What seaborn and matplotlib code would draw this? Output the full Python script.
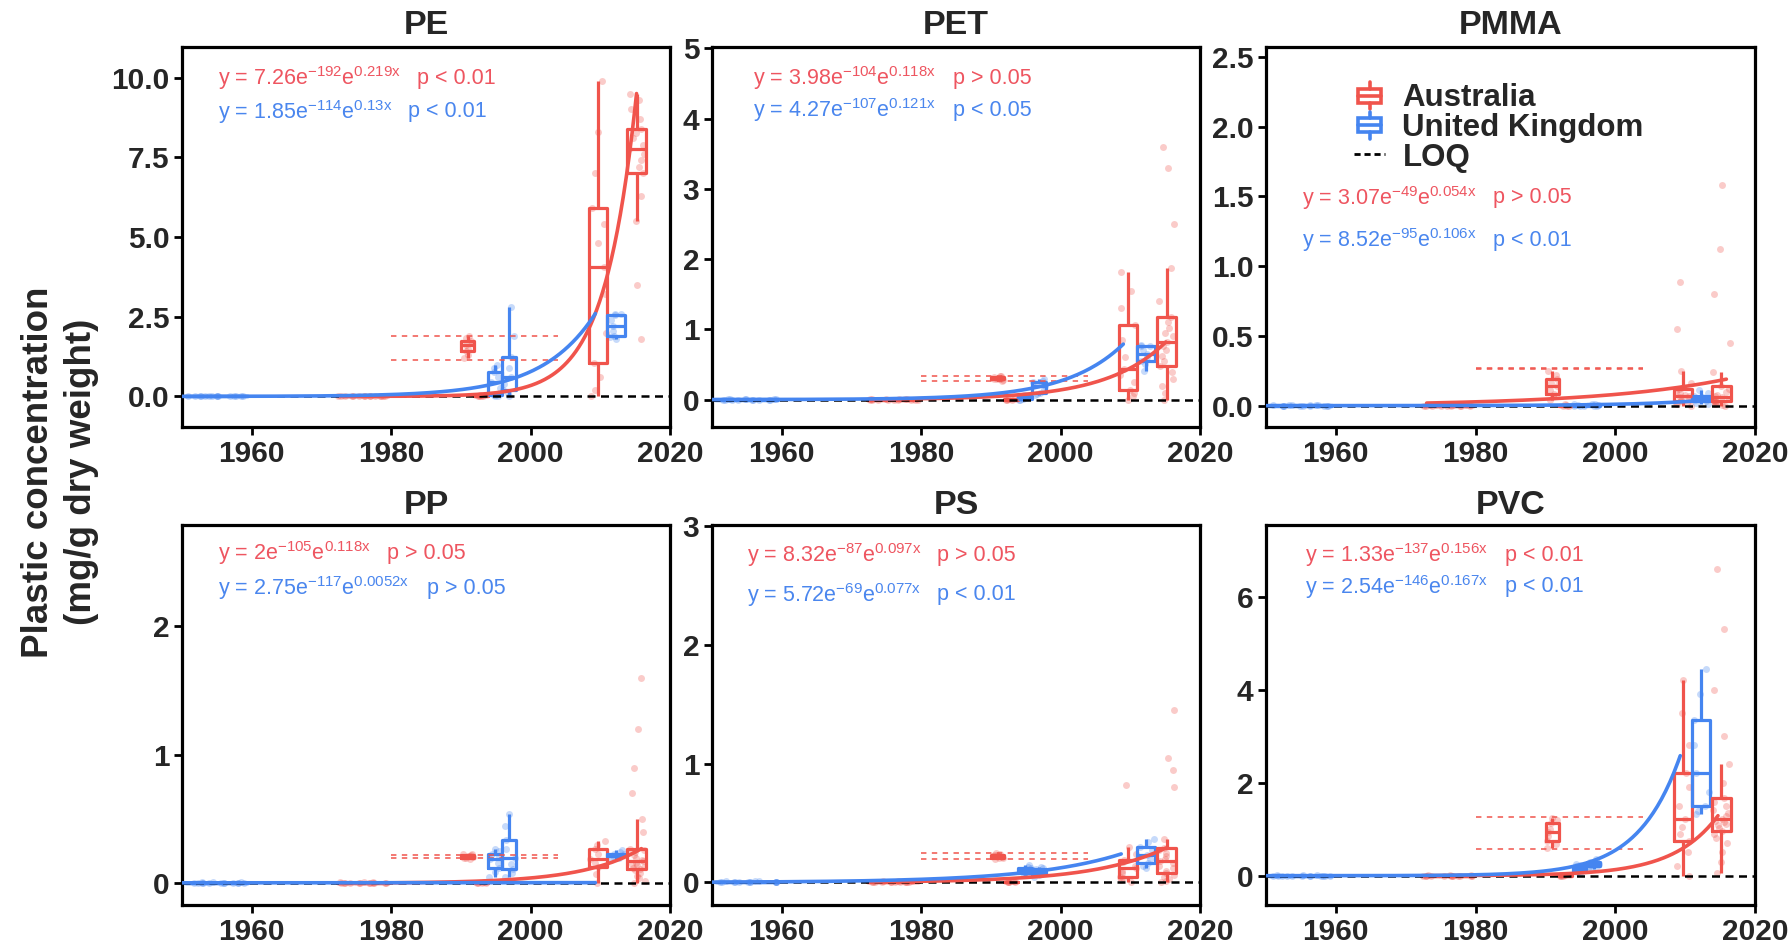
import numpy as np
import matplotlib
matplotlib.use("Agg")
import matplotlib.pyplot as plt
import seaborn as sns
from matplotlib.legend_handler import HandlerBase
from matplotlib.patches import Rectangle, Patch
from matplotlib.lines import Line2D

np.random.seed(7)

# ---------------- data ----------------
PANELS = ["PE", "PET", "PMMA", "PP", "PS", "PVC"]
COUNTRIES = ["Australia", "United Kingdom"]

# sampling-year groups shared by all polymers
GROUP_YEAR = [1952, 1955, 1958, 1973.5, 1976, 1978.5, 1991.0, 1992.9,
              1994.9, 1996.9, 2009.7, 2012.3, 2015.2]
GROUP_COUNTRY = (["United Kingdom"] * 3 + ["Australia"] * 5 +
                 ["United Kingdom"] * 2 +
                 ["Australia", "United Kingdom", "Australia"])

Z = [0.0, 0.0, 0.0, 0.004, 0.008]

PE_VALUES = [Z, Z, Z, Z, Z, Z,
             [1.2, 1.3, 1.42, 1.5, 1.6, 1.68, 1.75, 1.82, 1.9],
             [0, 0, 0.01, 0.02, 0.03],
             [0.0, 0.02, 0.05, 0.25, 0.45, 0.6, 0.78, 0.88, 0.97],
             [0.0, 0.1, 0.2, 0.4, 0.62, 0.9, 1.25, 1.9, 2.8],
             [0.0, 0.2, 0.6, 1.06, 2.0, 3.2, 4.06, 4.8, 5.4, 5.9, 7.0, 8.3, 9.9],
             [1.8, 1.85, 1.91, 2.05, 2.2, 2.4, 2.56, 2.58, 2.6],
             [1.8, 3.5, 5.5, 6.3, 7.0, 7.2, 7.4, 7.6, 7.75, 7.9, 8.1, 8.25,
              8.4, 8.7, 9.0, 9.3, 9.5]]

PET_VALUES = [Z, Z, Z, Z, Z, Z,
              [0.27, 0.28, 0.29, 0.3, 0.3, 0.31, 0.32, 0.33, 0.33],
              [0, 0, 0, 0.01, 0.02],
              [0, 0, 0.01, 0.02, 0.03, 0.04, 0.05, 0.06, 0.07],
              [0.06, 0.08, 0.1, 0.15, 0.2, 0.22, 0.25, 0.27, 0.3],
              [0.0, 0.05, 0.1, 0.14, 0.25, 0.35, 0.44, 0.6, 0.85, 1.06, 1.3,
               1.55, 1.82],
              [0.41, 0.5, 0.55, 0.6, 0.65, 0.7, 0.76, 0.77, 0.78],
              [0.0, 0.1, 0.2, 0.3, 0.4, 0.48, 0.55, 0.62, 0.7, 0.76, 0.82,
               0.9, 0.95, 1.02, 1.1, 1.18, 1.4, 1.87, 2.5, 3.3, 3.6]]

PMMA_VALUES = [Z, Z, Z, Z, Z, Z,
               [0.04, 0.07, 0.086, 0.11, 0.14, 0.16, 0.19, 0.22, 0.25],
               [0, 0, 0, 0.005, 0.01],
               [0, 0, 0, 0.005, 0.01],
               [0, 0, 0.005, 0.01, 0.015],
               [0.0, 0.01, 0.015, 0.02, 0.03, 0.04, 0.05, 0.06, 0.07, 0.08,
                0.09, 0.1, 0.12, 0.16, 0.25, 0.55, 0.89],
               [0.01, 0.02, 0.03, 0.04, 0.05, 0.06, 0.07, 0.09, 0.11],
               [0.0, 0.005, 0.01, 0.015, 0.02, 0.03, 0.035, 0.04, 0.045, 0.05,
                0.06, 0.07, 0.08, 0.1, 0.12, 0.14, 0.24, 0.45, 0.8, 1.12, 1.58]]

PP_VALUES = [Z, Z, Z, Z, Z, Z,
             [0.19, 0.195, 0.2, 0.205, 0.21, 0.215, 0.22, 0.225, 0.23],
             [0, 0, 0, 0.005, 0.01],
             [0.05, 0.09, 0.12, 0.16, 0.19, 0.21, 0.23, 0.25, 0.27],
             [0.05, 0.08, 0.11, 0.15, 0.2, 0.27, 0.34, 0.45, 0.54],
             [0.0, 0.07, 0.13, 0.16, 0.19, 0.23, 0.27, 0.3, 0.33],
             [0.18, 0.2, 0.21, 0.215, 0.22, 0.225, 0.23, 0.24, 0.26],
             [0.0, 0.02, 0.04, 0.06, 0.08, 0.1, 0.11, 0.12, 0.13, 0.14, 0.15,
              0.16, 0.17, 0.18, 0.2, 0.22, 0.24, 0.26, 0.27, 0.4, 0.5, 0.7,
              0.9, 1.2, 1.6]]

PS_VALUES = [Z, Z, Z, Z, Z, Z,
             [0.2, 0.205, 0.21, 0.215, 0.22, 0.23, 0.235, 0.24, 0.245],
             [0, 0, 0, 0.005, 0.01],
             [0.06, 0.07, 0.08, 0.09, 0.1, 0.11, 0.12, 0.13, 0.15],
             [0.05, 0.06, 0.07, 0.08, 0.09, 0.1, 0.11, 0.12, 0.13],
             [0.0, 0.02, 0.04, 0.05, 0.08, 0.1, 0.12, 0.14, 0.17, 0.19, 0.24,
              0.3, 0.82],
             [0.12, 0.14, 0.16, 0.2, 0.235, 0.27, 0.3, 0.34, 0.37],
             [0.0, 0.01, 0.03, 0.05, 0.06, 0.08, 0.1, 0.12, 0.14, 0.16, 0.18,
              0.2, 0.22, 0.25, 0.27, 0.29, 0.37, 0.8, 0.95, 1.05, 1.45]]

PVC_VALUES = [Z, Z, Z, Z, Z, Z,
              [0.6, 0.68, 0.75, 0.85, 0.93, 1.0, 1.14, 1.2, 1.25],
              [0, 0, 0, 0.01, 0.02],
              [0.05, 0.08, 0.1, 0.12, 0.15, 0.18, 0.2, 0.22, 0.25],
              [0.15, 0.18, 0.2, 0.23, 0.26, 0.28, 0.3, 0.32, 0.35],
              [0.0, 0.2, 0.5, 0.75, 0.9, 1.05, 1.22, 1.5, 1.9, 2.21, 2.8, 3.5,
               4.2],
              [1.33, 1.4, 1.5, 1.8, 2.2, 2.8, 3.35, 3.9, 4.45],
              [0.05, 0.3, 0.5, 0.7, 0.8, 0.9, 0.97, 1.02, 1.08, 1.12, 1.15,
               1.18, 1.22, 1.28, 1.35, 1.42, 1.5, 1.58, 1.67, 2.0, 2.4, 3.0,
               4.0, 5.3, 6.6]]

ALL_VALUES = [PE_VALUES, PET_VALUES, PMMA_VALUES, PP_VALUES, PS_VALUES, PVC_VALUES]

# exponential fits (rate from the printed equations, level read at end of curve)
FIT_RATE_AU = [0.219, 0.118, 0.054, 0.118, 0.097, 0.156]
FIT_RATE_UK = [0.13, 0.121, 0.106, 0.0052, 0.077, 0.167]
FIT_END_YEAR_AU = [2015.2, 2015.1, 2015.9, 2015.9, 2015.1, 2014.7]
FIT_END_VALUE_AU = [9.5, 0.82, 0.19, 0.27, 0.29, 1.29]
FIT_END_YEAR_UK = [2009.3, 2009.0, 2013.0, 2009.3, 2008.7, 2009.3]
FIT_END_VALUE_UK = [2.6, 0.79, 0.04, 0.005, 0.24, 2.58]
FIT_START_AU = 1973.0
FIT_START_UK = 1950.0

# range of the 1991 Australian samples (dashed red)
REF_LO = [1.15, 0.27, 0.26, 0.195, 0.20, 0.58]
REF_HI = [1.90, 0.33, 0.27, 0.220, 0.245, 1.27]
REF_YEARS = [1980, 2004]

EQ_AU = [r"y = 7.26e$^{-192}$e$^{0.219x}$", r"y = 3.98e$^{-104}$e$^{0.118x}$",
         r"y = 3.07e$^{-49}$e$^{0.054x}$", r"y = 2e$^{-105}$e$^{0.118x}$",
         r"y = 8.32e$^{-87}$e$^{0.097x}$", r"y = 1.33e$^{-137}$e$^{0.156x}$"]
EQ_UK = [r"y = 1.85e$^{-114}$e$^{0.13x}$", r"y = 4.27e$^{-107}$e$^{0.121x}$",
         r"y = 8.52e$^{-95}$e$^{0.106x}$", r"y = 2.75e$^{-117}$e$^{0.0052x}$",
         r"y = 5.72e$^{-69}$e$^{0.077x}$", r"y = 2.54e$^{-146}$e$^{0.167x}$"]
P_AU = ["p < 0.01", "p > 0.05", "p > 0.05", "p > 0.05", "p > 0.05", "p < 0.01"]
P_UK = ["p < 0.01", "p < 0.05", "p < 0.01", "p > 0.05", "p < 0.01", "p < 0.01"]

Y_TICKS = [[0, 2.5, 5, 7.5, 10], [0, 1, 2, 3, 4, 5], [0, 0.5, 1, 1.5, 2, 2.5],
           [0, 1, 2], [0, 1, 2, 3], [0, 2, 4, 6]]
Y_TICKLABELS = [["0.0", "2.5", "5.0", "7.5", "10.0"], ["0", "1", "2", "3", "4", "5"],
                ["0.0", "0.5", "1.0", "1.5", "2.0", "2.5"], ["0", "1", "2"],
                ["0", "1", "2", "3"], ["0", "2", "4", "6"]]
X_TICKS = [1960, 1980, 2000, 2020]

# ---------------- style ----------------
RED = "#F0544C"
BLUE = "#4585F0"
TXT_RED = "#EE5560"
TXT_BLUE = "#4A86EE"
COLORS = {"Australia": RED, "United Kingdom": BLUE}

Y_LIMS = [(-0.96, 10.96), (-0.39, 5.02), (-0.153, 2.572), (-0.169, 2.79),
          (-0.19, 3.01), (-0.63, 7.54)]
COL_PX = [(182, 670), (712, 1200), (1266, 1755)]
ROW_PX = [(47, 427), (525, 905)]
FIG_W, FIG_H = 1792, 952

# text positions (axes fraction): eq x, p x (AU), p x (UK), y AU, y UK
TXT_POS = [(0.074, 0.482, 0.463, 0.918, 0.829),
           (0.084, 0.494, 0.494, 0.918, 0.834),
           (0.074, 0.464, 0.464, 0.603, 0.492),
           (0.074, 0.420, 0.502, 0.926, 0.834),
           (0.072, 0.461, 0.461, 0.921, 0.816),
           (0.080, 0.489, 0.489, 0.921, 0.837)]

sns.set_style("ticks")
plt.rcParams["font.family"] = ["Liberation Sans", "DejaVu Sans"]
plt.rcParams["mathtext.default"] = "regular"

fig = plt.figure(figsize=(FIG_W / 100, FIG_H / 100), dpi=100)


class BoxGlyph(HandlerBase):
    def create_artists(self, legend, orig_handle, xdescent, ydescent,
                       width, height, fontsize, trans):
        c = orig_handle.get_edgecolor()
        bw = width * 0.72
        x0 = (width - bw) / 2 - xdescent
        y0 = -ydescent + height * 0.22
        bh = height * 0.56
        xm = x0 + bw / 2
        arts = [Rectangle((x0, y0), bw, bh, fill=False, edgecolor=c, lw=2.6,
                          transform=trans),
                Line2D([x0, x0 + bw], [y0 + bh / 2] * 2, color=c, lw=2.6,
                       transform=trans),
                Line2D([xm, xm], [y0 + bh, -ydescent + height * 1.05], color=c,
                       lw=2.6, transform=trans),
                Line2D([xm, xm], [-ydescent - height * 0.05, y0], color=c,
                       lw=2.6, transform=trans)]
        return arts


for i, name in enumerate(PANELS):
    r, c = divmod(i, 3)
    l_px, r_px = COL_PX[c]
    t_px, b_px = ROW_PX[r]
    ax = fig.add_axes([l_px / FIG_W, 1 - b_px / FIG_H,
                       (r_px - l_px) / FIG_W, (b_px - t_px) / FIG_H])

    # jittered observations and boxplots per sampling group
    for yr, country, vals in zip(GROUP_YEAR, GROUP_COUNTRY, ALL_VALUES[i]):
        col = COLORS[country]
        if yr < 1985:
            w = 3.0 if country == "United Kingdom" else 2.5
        elif yr < 2005:
            w = 1.9
        else:
            w = 2.6
        xs = [yr] * len(vals)
        sns.stripplot(x=xs, y=vals, orient="x", native_scale=True,
                      jitter=w * 0.45, color=col, alpha=0.3, size=5,
                      linewidth=0, legend=False, ax=ax, zorder=1)
        sns.boxplot(x=xs, y=vals, orient="x", native_scale=True, width=w,
                    fill=False, color=col, saturation=1, linewidth=2.3,
                    showfliers=False, showcaps=False, whis=1.5,
                    legend=False, ax=ax)

    # LOQ
    ax.axhline(0, color="black", lw=1.8, ls=(0, (3.2, 2.2)), zorder=2.5)

    # 1991 range reference lines
    ax.hlines([REF_LO[i], REF_HI[i]], REF_YEARS[0], REF_YEARS[1], colors=RED,
              linestyles=(0, (3, 3)), lw=1.3, alpha=0.85, zorder=2)

    # exponential fits
    xa = np.linspace(FIT_START_AU, FIT_END_YEAR_AU[i], 200)
    ya = FIT_END_VALUE_AU[i] * np.exp(FIT_RATE_AU[i] * (xa - FIT_END_YEAR_AU[i]))
    xu = np.linspace(FIT_START_UK, FIT_END_YEAR_UK[i], 200)
    yu = FIT_END_VALUE_UK[i] * np.exp(FIT_RATE_UK[i] * (xu - FIT_END_YEAR_UK[i]))
    sns.lineplot(x=xa, y=ya, color=RED, lw=2.6, ax=ax, zorder=3)
    sns.lineplot(x=xu, y=yu, color=BLUE, lw=2.6, ax=ax, zorder=3)

    # equations
    ex, pxa, pxu, ya_t, yu_t = TXT_POS[i]
    kw = dict(fontsize=15.5, va="center", ha="left", transform=ax.transAxes)
    ax.text(ex, ya_t, EQ_AU[i], color=TXT_RED, **kw)
    ax.text(pxa, ya_t, P_AU[i], color=TXT_RED, **kw)
    ax.text(ex, yu_t, EQ_UK[i], color=TXT_BLUE, **kw)
    ax.text(pxu, yu_t, P_UK[i], color=TXT_BLUE, **kw)

    ax.set_xlim(1950, 2020)
    ax.set_ylim(*Y_LIMS[i])
    ax.set_xticks(X_TICKS, [str(t) for t in X_TICKS], fontsize=21.5,
                  fontweight="bold")
    ax.set_yticks(Y_TICKS[i], Y_TICKLABELS[i], fontsize=21.5, fontweight="bold")
    ax.tick_params(direction="out", length=6, width=2, pad=3, color="black")
    ax.set_xlabel("")
    ax.set_ylabel("")
    for s in ax.spines.values():
        s.set_visible(True)
        s.set_linewidth(2.3)
        s.set_color("black")
    ax.set_title(name, fontsize=24.5, fontweight="bold", pad=8 if r else 9)

    if name == "PMMA":
        handles = [Patch(edgecolor=RED, facecolor="none"),
                   Patch(edgecolor=BLUE, facecolor="none"),
                   Line2D([], [], color="black", lw=2.0, ls=(0, (2.2, 1.4)))]
        ax.legend(handles=handles, labels=["Australia", "United Kingdom", "LOQ"],
                  handler_map={Patch: BoxGlyph()}, loc="upper left",
                  bbox_to_anchor=(0.18, 0.905), frameon=False,
                  prop={"weight": "bold", "size": 22.5}, handlelength=1.0,
                  handleheight=0.85, handletextpad=0.55, labelspacing=-0.02,
                  borderpad=0, borderaxespad=0)

fig.text(60 / FIG_W, 0.504, "Plastic concentration\n(mg/g dry weight)",
         rotation=90, ha="center", va="center", multialignment="center",
         fontsize=26.5, fontweight="bold", linespacing=1.3)

fig.savefig("out.png", dpi=100)
